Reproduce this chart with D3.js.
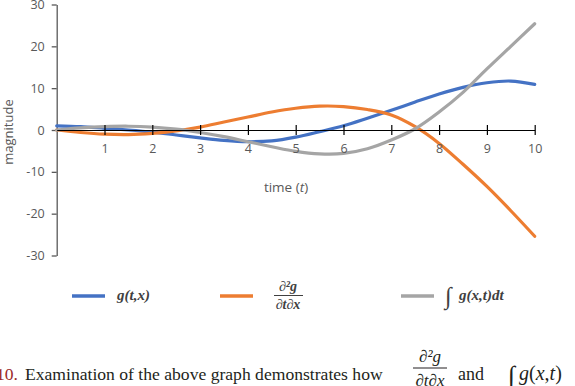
<!DOCTYPE html>
<html>
<head>
<meta charset="utf-8">
<script src="https://cdn.jsdelivr.net/npm/d3@7"></script>
<style>
  body { margin: 0; background: #fff; }
  svg { display: block; }
  .tick text { font-family: "Open Sans", sans-serif; font-size: 12.5px; fill: #595959; }
</style>
</head>
<body>
<div id="chart"></div>
<script>
var svgWidth = 575;
var svgHeight = 386;

// data
var times = [0, 0.5, 1, 1.5, 2, 2.5, 3, 3.5, 4, 4.5, 5, 5.5, 6, 6.5, 7, 7.5, 8, 8.5, 9, 9.5, 10];
var gValues = [1.0, 0.8, 0.4, 0, -0.5, -1.2, -1.9, -2.5, -2.8, -2.6, -1.7, -0.4, 1.0, 2.8, 4.7, 6.7, 8.6, 10.2, 11.3, 11.7, 10.9];
var d2gValues = [0, -0.6, -1.0, -1.1, -0.8, -0.2, 0.7, 1.9, 3.1, 4.3, 5.2, 5.7, 5.6, 4.9, 3.6, 0.8, -3.2, -8.2, -13.5, -19.3, -25.4];
var intValues = [0, 0.5, 0.8, 0.9, 0.7, 0.2, -0.6, -1.6, -2.8, -4.0, -5.1, -5.7, -5.6, -4.5, -2.4, 0.3, 4.3, 9.0, 14.6, 20.0, 25.4];
var xTicks = [1, 2, 3, 4, 5, 6, 7, 8, 9, 10];
var yTicks = [-30, -20, -10, 0, 10, 20, 30];
var seriesColors = ["#4472c4", "#ed7d31", "#a5a5a5"];

var svg = d3.select("#chart")
  .append("svg")
  .attr("width", svgWidth)
  .attr("height", svgHeight);

var x = d3.scaleLinear().domain([0, 10]).range([56.7, 534.7]);
var y = d3.scaleLinear().domain([-30, 30]).range([255.5, 4.5]);

// y axis
var yAxis = svg.append("g")
  .attr("transform", `translate(${x(0)},0)`)
  .call(d3.axisLeft(y).tickValues(yTicks).tickFormat(d => String(d)).tickSize(5).tickPadding(7).tickSizeOuter(0));
yAxis.select(".domain").attr("stroke", "#595959").attr("stroke-width", 1.3);
yAxis.selectAll(".tick line").attr("stroke", "#595959").attr("stroke-width", 1.3);

svg.append("text")
  .attr("transform", `translate(13,${y(0) + 2}) rotate(-90)`)
  .attr("text-anchor", "middle")
  .attr("font-family", "Open Sans, sans-serif")
  .attr("font-size", 13)
  .attr("fill", "#595959")
  .text("magnitude");

// series
var line = d3.line()
  .x((d, i) => x(times[i]))
  .y(d => y(d))
  .curve(d3.curveCatmullRom.alpha(0.5));

var series = [gValues, d2gValues, intValues];
series.forEach(function(vals, i) {
  svg.append("path")
    .datum(vals)
    .attr("d", line)
    .attr("fill", "none")
    .attr("stroke", seriesColors[i])
    .attr("stroke-width", 3.2)
    .attr("stroke-linecap", "round");
});

// x axis through zero, ticks crossing the line
var xAxis = svg.append("g")
  .attr("transform", `translate(0,${y(0)})`)
  .call(d3.axisBottom(x).tickValues(xTicks).tickSize(5).tickPadding(9).tickSizeOuter(0));
xAxis.select(".domain").attr("stroke", "#000").attr("stroke-width", 1.2);
xAxis.selectAll(".tick line").attr("y1", -5).attr("y2", 5).attr("stroke", "#000").attr("stroke-width", 1.2);

var xl = svg.append("text")
  .attr("x", 286)
  .attr("y", 192)
  .attr("text-anchor", "middle")
  .attr("font-family", "Open Sans, sans-serif")
  .attr("font-size", 13.5)
  .attr("fill", "#595959");
xl.append("tspan").text("time (");
xl.append("tspan").attr("font-style", "italic").text("t");
xl.append("tspan").text(")");

// legend
var legendX = [72, 220, 401];
var legendY = 296;
legendX.forEach(function(lx, i) {
  svg.append("line")
    .attr("x1", lx).attr("x2", lx + 33)
    .attr("y1", legendY).attr("y2", legendY)
    .attr("stroke", seriesColors[i])
    .attr("stroke-width", 3.5);
});

var legFont = "Liberation Serif, serif";
svg.append("text")
  .attr("x", 117).attr("y", legendY + 4)
  .attr("font-family", legFont).attr("font-size", 15)
  .attr("font-style", "italic").attr("font-weight", "bold")
  .attr("fill", "#404040")
  .text("g(t,x)");

svg.append("text")
  .attr("x", 288).attr("y", legendY - 5)
  .attr("text-anchor", "middle")
  .attr("font-family", legFont).attr("font-size", 14)
  .attr("font-style", "italic").attr("font-weight", "bold")
  .attr("fill", "#404040")
  .text("∂²g");
svg.append("line")
  .attr("x1", 274).attr("x2", 303)
  .attr("y1", legendY - 0.5).attr("y2", legendY - 0.5)
  .attr("stroke", "#404040").attr("stroke-width", 1);
svg.append("text")
  .attr("x", 288).attr("y", legendY + 13)
  .attr("text-anchor", "middle")
  .attr("font-family", legFont).attr("font-size", 14)
  .attr("font-style", "italic").attr("font-weight", "bold")
  .attr("fill", "#404040")
  .text("∂t∂x");

svg.append("text")
  .attr("x", 445).attr("y", legendY + 8)
  .attr("font-family", legFont).attr("font-size", 24)
  .attr("fill", "#404040")
  .text("∫");
svg.append("text")
  .attr("x", 459).attr("y", legendY + 4)
  .attr("font-family", legFont).attr("font-size", 15)
  .attr("font-style", "italic").attr("font-weight", "bold")
  .attr("fill", "#404040")
  .text("g(x,t)dt");

// caption below
var serif = "Liberation Serif, serif";
var cap = svg.append("text")
  .attr("x", -4).attr("y", 380)
  .attr("font-family", serif).attr("font-size", 17.6)
  .attr("fill", "#231f20");
cap.append("tspan").attr("fill", "#9b2a2a").text("10.");
cap.append("tspan").attr("dx", 7).text("Examination of the above graph demonstrates how");

svg.append("text")
  .attr("x", 430).attr("y", 362)
  .attr("text-anchor", "middle")
  .attr("font-family", serif).attr("font-size", 17)
  .attr("font-style", "italic")
  .attr("fill", "#231f20")
  .text("∂²g");
svg.append("line")
  .attr("x1", 413).attr("x2", 447)
  .attr("y1", 368).attr("y2", 368)
  .attr("stroke", "#231f20").attr("stroke-width", 1);
svg.append("text")
  .attr("x", 430).attr("y", 386)
  .attr("text-anchor", "middle")
  .attr("font-family", serif).attr("font-size", 17)
  .attr("font-style", "italic")
  .attr("fill", "#231f20")
  .text("∂t∂x");

svg.append("text")
  .attr("x", 458).attr("y", 380)
  .attr("font-family", serif).attr("font-size", 18)
  .attr("fill", "#231f20")
  .text("and");
svg.append("text")
  .attr("x", 508).attr("y", 384)
  .attr("font-family", serif).attr("font-size", 26)
  .attr("fill", "#231f20")
  .text("∫");
var gx = svg.append("text")
  .attr("x", 519).attr("y", 380)
  .attr("font-family", serif).attr("font-size", 20)
  .attr("fill", "#231f20");
gx.append("tspan").attr("font-style", "italic").text("g");
gx.append("tspan").text("(");
gx.append("tspan").attr("font-style", "italic").text("x");
gx.append("tspan").text(",");
gx.append("tspan").attr("font-style", "italic").text("t");
gx.append("tspan").text(")");
</script>
</body>
</html>
